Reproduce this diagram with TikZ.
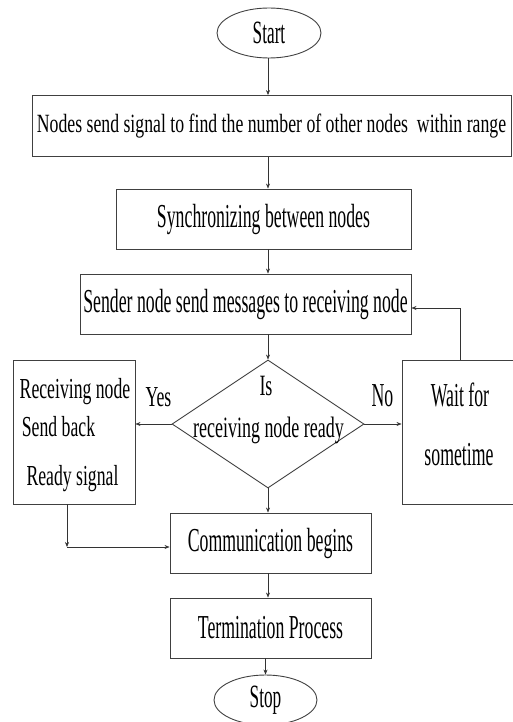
\documentclass[tikz,border=0pt]{standalone}
\usepackage{fontspec}
\setmainfont[FakeStretch=0.53]{Liberation Serif}
\newfontfamily\fb[FakeStretch=0.675]{Liberation Serif}
\newfontfamily\fc[FakeStretch=0.61]{Liberation Serif}
\usetikzlibrary{shapes.geometric,arrows.meta}
\begin{document}
\begin{tikzpicture}[x=1pt,y=-1pt,
  shp/.style={draw=black!75,line width=0.9pt,inner sep=0pt},
  boxn/.style={shp,rectangle,font=\fontsize{33.5}{33.5}\selectfont},
  ell/.style={shp,ellipse,font=\fontsize{32.5}{32.5}\selectfont},
  txt/.style={inner sep=0pt,anchor=base},
  big/.style={font=\fontsize{33.5}{33.5}\selectfont},
  mid/.style={font=\fc\fontsize{29}{29}\selectfont},
  arr/.style={draw=black!80,line width=0.6pt,-{Stealth[length=5pt,width=4pt]}}]
\useasboundingbox (0,0) rectangle (512,722);
\coordinate (ax) at (268,0);
% shapes
\node[ell,minimum width=104pt,minimum height=50pt] (start) at (269,33) {Start};
\node[boxn,minimum width=479pt,minimum height=61pt,font=\fb\fontsize{26.3}{26.3}\selectfont] (b1) at (271.5,126) {Nodes send signal to find the number of other nodes\ \ within range};
\node[boxn,minimum width=295pt,minimum height=60pt] (b2) at (263.5,219) {Synchronizing between nodes};
\node[boxn,minimum width=331pt,minimum height=60pt] (b3) at (245.5,304) {Sender node send messages to receiving node};
\node[shp,diamond,minimum width=192pt,minimum height=128pt] (dec) at (268,424) {};
\node[shp,minimum width=122pt,minimum height=144pt] (lb) at (74,432) {};
\node[shp,minimum width=114pt,minimum height=144pt] (wb) at (459,432) {};
\node[boxn,minimum width=201pt,minimum height=60pt] (cb) at (270.5,543) {Communication begins};
\node[boxn,minimum width=201pt,minimum height=60pt] (tb) at (270.5,628) {Termination Process};
\node[ell,minimum width=103pt,minimum height=50pt] (stop) at (265.5,700) {Stop};
% texts
\node[txt,font=\fc\fontsize{29.5}{29.5}\selectfont] (is) at (266,395) {Is};
\node[txt,font=\fc\fontsize{29.5}{29.5}\selectfont] (rnr) at (268.5,437) {receiving node ready};
\node[txt,mid] (yes) at (158.5,406) {Yes};
\node[txt,big] (no) at (382.5,406) {No};
\node[txt,mid] (l1) at (75,398) {Receiving node};
\node[txt,mid] (l2) at (58.5,436) {Send back};
\node[txt,mid] (l3) at (72.5,485) {Ready signal};
\node[txt,big] (w1) at (460,406) {Wait for};
\node[txt,big] (w2) at (459,465) {sometime};
% connectors
\draw[arr] (ax |- start.south) -- (ax |- b1.north);
\draw[arr] (ax |- b1.south) -- (ax |- b2.north);
\draw[arr] (ax |- b2.south) -- (ax |- b3.north);
\draw[arr] (ax |- b3.south) -- (dec.north);
\draw[arr] (dec.west) -- (dec.west -| lb.east);
\draw[arr] (dec.east) -- (dec.east -| wb.west);
\coordinate (fbk) at (460,308);
\draw[arr] (wb.north -| fbk) -- (fbk) -- (fbk -| b3.east);
\draw[arr] (dec.south) -- (dec.south |- cb.north);
\coordinate (cn) at (67,547);
\draw[arr] (lb.south -| cn) -- (cn);
\draw[arr] (cn) -- (cn -| cb.west);
\draw[arr] (ax |- cb.south) -- (ax |- tb.north);
\draw[arr] (stop.north |- tb.south) -- (stop.north);
\end{tikzpicture}
\end{document}
